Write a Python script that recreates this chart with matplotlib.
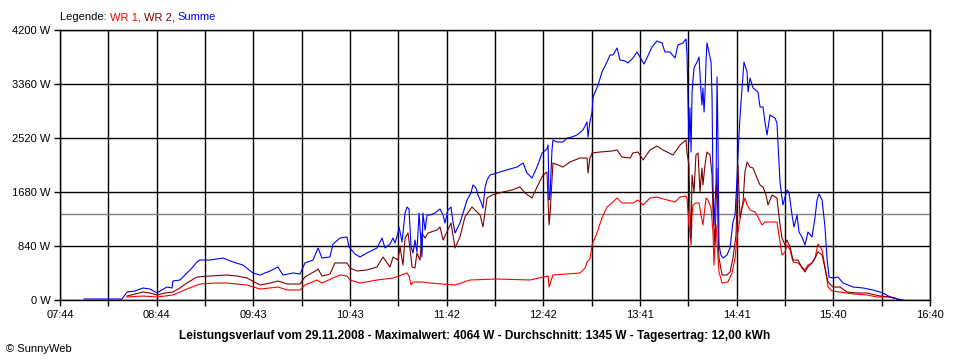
import matplotlib
matplotlib.use("Agg")
import matplotlib.pyplot as plt

# Zeit in Minuten seit 00:00, Leistung in W (29.11.2008)
t_wr1 = [505.3, 515.1, 523.8, 528.7, 533.6, 537.9, 542.2, 550.3, 559.5, 566.9,
         579.2, 587.2, 593.4, 598.3, 603.9, 611.9, 614.9, 622.3, 625.4, 632.2,
         636.5, 640.8, 642.7, 648.8, 659.3, 669.2, 677.8, 679.0, 680.3, 681.5,
         687.6, 692.0, 707.4, 716.6, 733.2, 753.6, 764.7, 765.3, 767.7, 784.4,
         787.5, 788.7, 790.5, 791.8, 794.8, 797.9, 801.0, 804.1, 807.2, 810.2,
         817.0, 820.1, 823.2, 827.5, 831.8, 838.0, 842.9, 846.0, 849.7, 850.3,
         851.5, 852.8, 853.4, 854.0, 855.8, 857.7, 858.9, 860.1, 860.8, 862.0,
         863.2, 865.1, 866.3, 866.9, 868.2, 868.8, 870.0, 871.9, 875.5, 878.0,
         879.9, 881.1, 882.3, 884.2, 886.0, 887.3, 889.1, 892.2, 894.0, 896.5,
         898.3, 903.3, 905.7, 907.6, 908.8, 910.7, 911.9, 913.8, 915.6, 918.7,
         921.1, 923.0, 924.8, 927.3, 929.2, 931.0, 933.5, 935.3, 937.2, 939.6,
         944.6, 952.6, 961.2, 967.3, 975.4, 979.7, 981.5]
p_wr1 = [47, 62, 47, 62, 78, 124, 171, 249, 264, 264,
         233, 171, 187, 202, 156, 156, 233, 311, 264, 342,
         389, 373, 311, 264, 311, 342, 420, 373, 233, 280,
         280, 264, 233, 311, 327, 311, 373, 202, 389, 420,
         498, 591, 638, 856, 1042, 1276, 1447, 1509, 1587, 1509,
         1509, 1556, 1478, 1587, 1602, 1556, 1524, 1602, 1618, 1587,
         1167, 856, 1322, 1478, 1509, 1509, 1322, 1167, 1322, 1587,
         1556, 1431, 1058, 544, 1167, 902, 436, 264, 280, 420,
         653, 964, 1167, 1431, 1587, 1478, 1400, 1369, 1291, 1167,
         1213, 1213, 1213, 902, 700, 747, 856, 778, 591, 576,
         513, 467, 544, 576, 653, 871, 778, 513, 202, 140,
         124, 93, 78, 47, 47, 16, 0]

t_wr2 = [505.3, 510.2, 515.1, 519.4, 523.8, 528.7, 533.6, 537.9, 542.2, 548.4,
         556.4, 566.9, 573.0, 579.2, 587.2, 593.4, 598.3, 603.9, 611.9, 614.9,
         622.3, 623.0, 625.4, 630.3, 633.4, 640.8, 642.7, 647.0, 653.1, 659.3,
         663.0, 667.3, 669.2, 672.2, 673.5, 675.3, 676.6, 678.4, 679.6, 680.9,
         682.7, 683.9, 685.8, 687.0, 688.9, 690.7, 696.3, 698.1, 700.0, 702.4,
         704.9, 707.4, 710.4, 713.5, 717.8, 719.7, 722.8, 724.6, 727.1, 730.2,
         736.9, 742.5, 747.4, 750.5, 754.8, 757.9, 761.6, 764.0, 765.3, 765.9,
         767.7, 773.9, 778.2, 784.4, 788.7, 789.3, 790.5, 791.8, 796.7, 804.1,
         807.2, 810.2, 815.2, 817.0, 820.1, 823.2, 827.5, 831.8, 835.5, 841.7,
         846.0, 849.7, 850.3, 851.5, 852.1, 852.8, 853.4, 854.6, 855.8, 857.1,
         858.3, 859.5, 860.1, 861.4, 862.6, 864.5, 865.7, 866.3, 867.5, 868.8,
         869.4, 870.0, 871.9, 874.9, 876.8, 878.6, 880.5, 881.7, 882.9, 884.8,
         886.0, 887.3, 889.1, 891.0, 893.4, 895.3, 897.1, 899.0, 900.2, 902.7,
         905.7, 907.6, 908.8, 910.7, 911.9, 913.8, 915.6, 918.7, 921.1, 923.0,
         924.8, 927.3, 929.2, 931.0, 933.5, 935.3, 937.2, 940.2, 944.6, 948.9,
         955.0, 961.2, 969.2, 975.4, 978.4, 980.3]
p_wr2 = [62, 93, 124, 109, 78, 109, 124, 187, 264, 358,
         373, 389, 373, 342, 233, 264, 296, 249, 249, 358,
         467, 482, 373, 404, 576, 576, 498, 451, 467, 513,
         669, 513, 669, 622, 824, 544, 964, 1042, 809, 513,
         498, 731, 622, 1042, 964, 1042, 1089, 1136, 933, 1058,
         1198, 809, 980, 1291, 1447, 1400, 1322, 1136, 1587, 1633,
         1680, 1711, 1758, 1664, 1587, 1758, 1944, 1991, 1167, 1322,
         2131, 2069, 2147, 2209, 2209, 1976, 2209, 2287, 2302, 2318,
         2333, 2224, 2209, 2287, 2302, 2178, 2333, 2396, 2333, 2256,
         2411, 2489, 2287, 2100, 1369, 964, 1944, 1680, 2256, 2287,
         1680, 2053, 1789, 2100, 2302, 2256, 1944, 1369, 856, 2053,
         1058, 653, 389, 389, 436, 653, 1011, 2100, 1276, 1524,
         1991, 2147, 2069, 2053, 1898, 1789, 1758, 1633, 1478, 1633,
         1587, 1167, 964, 856, 933, 824, 622, 622, 498, 436,
         513, 576, 653, 747, 700, 498, 280, 202, 202, 124,
         109, 109, 62, 47, 31, 0]

t_summe = [478.8, 502.2, 505.3, 510.2, 515.1, 519.4, 523.8, 525.6, 529.9, 533.0,
           533.6, 537.9, 542.2, 545.3, 548.4, 550.3, 556.4, 560.7, 564.4, 567.5,
           570.6, 576.7, 582.9, 587.2, 590.3, 593.4, 598.3, 601.4, 607.6, 611.9,
           614.9, 619.9, 623.0, 625.4, 630.3, 632.2, 636.5, 640.8, 642.1, 645.7,
           648.8, 653.1, 659.3, 662.4, 664.2, 667.3, 669.2, 670.4, 672.2, 672.9,
           674.7, 676.6, 677.8, 679.0, 680.3, 681.5, 682.7, 683.9, 685.2, 687.0,
           687.6, 688.9, 690.1, 692.0, 695.0, 698.1, 700.0, 701.2, 703.0, 704.9,
           706.1, 707.4, 710.4, 712.3, 714.8, 717.2, 718.4, 720.3, 721.5, 723.4,
           724.6, 725.8, 727.1, 728.9, 733.2, 736.9, 741.2, 745.6, 749.3, 751.7,
           754.8, 757.9, 761.0, 764.0, 764.7, 765.3, 765.9, 767.1, 767.7, 770.2,
           773.9, 776.4, 779.4, 782.5, 786.2, 788.7, 789.3, 790.5, 791.8, 792.4,
           795.5, 797.9, 801.0, 802.9, 804.7, 807.2, 809.0, 812.1, 813.9, 817.0,
           819.5, 821.3, 823.8, 825.6, 828.7, 831.8, 834.9, 836.7, 839.8, 842.9,
           844.7, 847.8, 849.7, 850.3, 851.5, 852.1, 852.8, 853.4, 854.6, 856.5,
           857.7, 858.9, 859.5, 860.1, 860.8, 861.4, 862.0, 862.6, 863.8, 865.1,
           865.7, 866.3, 866.9, 868.2, 868.8, 869.4, 870.0, 871.2, 872.5, 874.9,
           876.8, 878.6, 879.9, 881.1, 881.7, 882.9, 884.2, 885.4, 887.3, 887.9,
           889.1, 891.0, 894.0, 895.3, 897.1, 898.3, 899.6, 901.4, 904.5, 905.7,
           906.3, 907.6, 908.8, 909.4, 911.9, 913.1, 915.0, 916.2, 918.1, 919.3,
           921.1, 923.0, 924.8, 927.3, 929.2, 930.4, 931.6, 933.5, 935.3, 936.5,
           937.8, 940.2, 943.3, 946.4, 952.6, 958.7, 964.9, 971.0, 975.4, 979.7,
           983.4]
p_summe = [16, 16, 124, 140, 187, 171, 109, 140, 202, 187,
           296, 311, 420, 498, 591, 622, 622, 638, 653, 622,
           591, 544, 420, 389, 420, 451, 513, 389, 420, 404,
           576, 622, 809, 653, 669, 871, 964, 980, 824, 716,
           669, 731, 809, 964, 809, 871, 964, 887, 1042, 1136,
           902, 1353, 1447, 1416, 824, 731, 933, 747, 1353, 669,
           1353, 1089, 1322, 1322, 1353, 1416, 1322, 1198, 1400, 1447,
           1213, 1042, 1198, 1353, 1556, 1664, 1789, 1742, 1633, 1524,
           1431, 1742, 1867, 1944, 1976, 2007, 2038, 2069, 2131, 1976,
           1898, 2069, 2287, 2349, 2411, 1556, 1633, 2333, 2489, 2458,
           2458, 2520, 2536, 2567, 2644, 2769, 2536, 2769, 2924, 3158,
           3344, 3547, 3702, 3811, 3811, 3920, 3733, 3718, 3687, 3764,
           3858, 3780, 3671, 3764, 3936, 4029, 3998, 3858, 3858, 3764,
           3967, 3998, 4060, 3811, 2458, 2987, 2302, 3236, 3609, 3702,
           3780, 3236, 3033, 3298, 2924, 3236, 3702, 3998, 3858, 3702,
           3189, 1789, 1167, 1836, 3469, 2458, 856, 700, 653, 700,
           809, 1213, 1322, 1898, 2256, 2831, 3298, 3702, 3547, 3236,
           3453, 3298, 3236, 3002, 3002, 2769, 2567, 2878, 2831, 2753,
           2458, 1836, 1587, 1478, 1711, 1680, 1322, 1136, 1322, 1058,
           980, 856, 1058, 980, 1291, 1556, 1649, 1556, 1136, 669,
           358, 342, 358, 264, 202, 187, 156, 109, 47, 16,
           0]

durchschnitt = 1345
x_labels = ["07:44", "08:44", "09:43", "10:43", "11:42", "12:42",
            "13:41", "14:41", "15:40", "16:40"]
y_ticks = [0, 840, 1680, 2520, 3360, 4200]
t_start, t_end = 464, 1000  # 07:44 .. 16:40

titel = ("Leistungsverlauf vom 29.11.2008 - Maximalwert: 4064 W - "
         "Durchschnitt: 1345 W - Tagesertrag: 12,00 kWh")


def main():
    plt.rcParams['font.family'] = ['Liberation Sans', 'DejaVu Sans']
    plt.rcParams['font.size'] = 8

    fig = plt.figure(figsize=(9.6, 3.6), dpi=100)
    ax = fig.add_axes([60 / 960, 60 / 360, 870 / 960, 270 / 360])

    step = (t_end - t_start) / 18
    major = [t_start + 2 * i * step for i in range(10)]
    minor = [t_start + (2 * i + 1) * step for i in range(9)]
    ax.set_xticks(major)
    ax.set_xticklabels(x_labels)
    ax.set_xticks(minor, minor=True)
    ax.set_yticks(y_ticks)
    ax.set_yticklabels([f"{v} W" for v in y_ticks])
    ax.set_xlim(t_start, t_end)
    ax.set_ylim(0, 4200)

    ax.grid(True, which='both', color='black', linewidth=1.0)
    ax.set_axisbelow(True)
    ax.tick_params(which='both', length=4, width=1.0, color='black',
                   pad=3, labelsize=8)
    for s in ax.spines.values():
        s.set_linewidth(1.0)

    ax.axhline(durchschnitt, color='#808080', linewidth=1.0, zorder=1.5)

    ax.plot(t_wr1, p_wr1, color='#ff0000', linewidth=0.8)
    ax.plot(t_wr2, p_wr2, color='#800000', linewidth=0.8)
    ax.plot(t_summe, p_summe, color='#0000ff', linewidth=0.8)

    # Legende als farbige Textstücke hintereinander
    prev = fig.text(60 / 960, 1 - 20 / 360, "Legende: ", color='black',
                    fontsize=8, va='baseline')
    for txt, col in [("WR 1, ", '#ff0000'), ("WR 2, ", '#800000'),
                     ("Summe", '#0000ff')]:
        prev = ax.annotate(txt, xy=(1, 0), xycoords=prev, color=col,
                           fontsize=8, va='bottom', annotation_clip=False)

    fig.text(475 / 960, 1 - 336 / 360, titel, ha='center', va='center',
             fontsize=8.6, fontweight='bold')
    fig.text(6 / 960, 1 - 349 / 360, "\u00a9 SunnyWeb", ha='left',
             va='center', fontsize=8)

    fig.savefig("out.png", dpi=100, facecolor='white')


if __name__ == "__main__":
    main()
